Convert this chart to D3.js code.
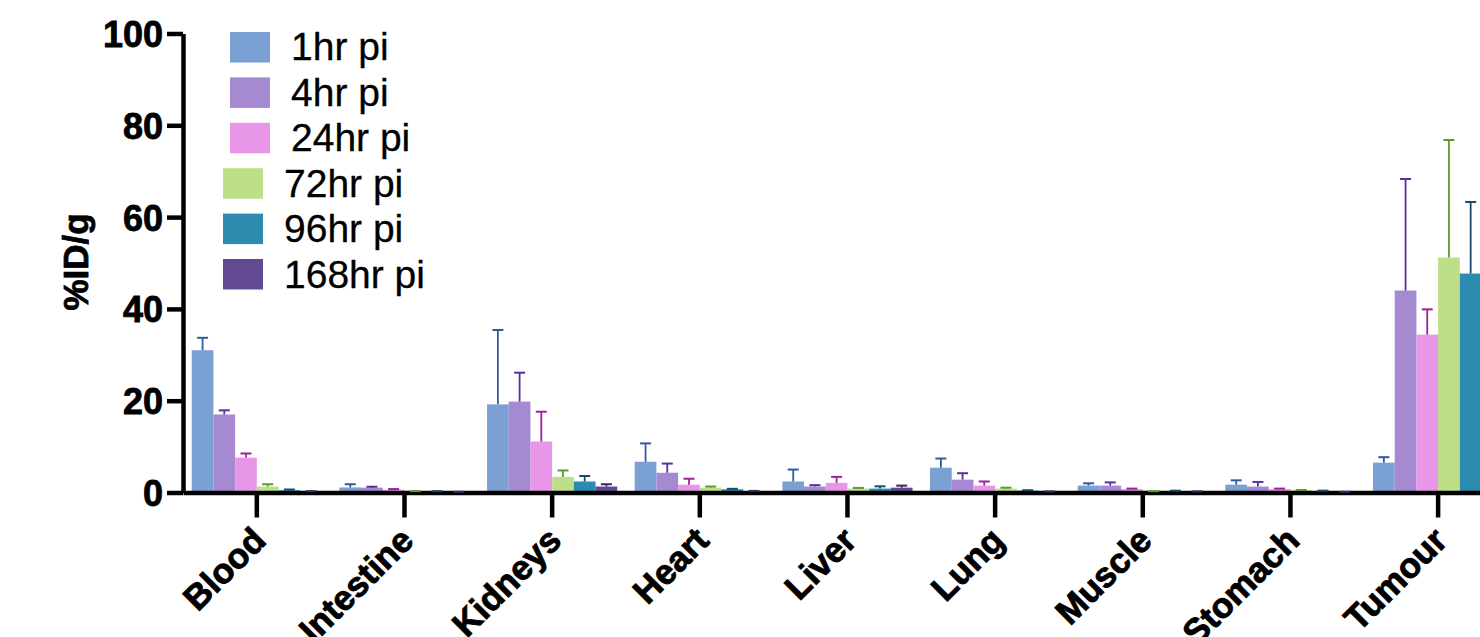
<!DOCTYPE html>
<html>
<head>
<meta charset="utf-8">
<script src="https://cdn.jsdelivr.net/npm/d3@7"></script>
<style>
  html, body { margin: 0; padding: 0; background: #fff; }
  svg { display: block; }
  text { font-family: "Liberation Sans", Arial, sans-serif; }
</style>
</head>
<body>
<svg id="chart" width="1480" height="637"></svg>
<script>
const categories = ["Blood","Intestine","Kidneys","Heart","Liver","Lung","Muscle","Stomach","Tumour"];
const seriesNames = ["1hr pi","4hr pi","24hr pi","72hr pi","96hr pi","168hr pi"];

const mean1hr   = [31.0, 1.1, 19.2, 6.7, 2.4, 5.4, 1.5, 1.7, 6.5];
const mean4hr   = [17.0, 1.05, 19.8, 4.3, 1.3, 2.8, 1.5, 1.3, 44.0];
const mean24hr  = [7.6, 0.6, 11.1, 1.7, 2.1, 1.5, 0.75, 0.75, 34.4];
const mean72hr  = [1.3, 0.2, 3.4, 1.05, 0.85, 0.85, 0.2, 0.5, 51.2];
const mean96hr  = [0.5, 0.2, 2.4, 0.7, 0.85, 0.4, 0.3, 0.3, 47.7];
const mean168hr = [0.2, 0.1, 1.3, 0.3, 1.05, 0.2, 0.2, 0.1, 35.0];

const sd1hr   = [2.7, 0.7, 16.2, 4.0, 2.6, 2.0, 0.5, 0.95, 1.2];
const sd4hr   = [0.9, 0.2, 6.3, 2.0, 0.3, 1.4, 0.7, 1.0, 24.3];
const sd24hr  = [0.9, 0.15, 6.5, 1.3, 1.3, 0.9, 0.1, 0.1, 5.5];
const sd72hr  = [0.5, 0.1, 1.4, 0.25, 0.15, 0.2, 0.1, 0.05, 25.6];
const sd96hr  = [0.15, 0.1, 1.2, 0.1, 0.5, 0.1, 0.1, 0.1, 15.6];
const sd168hr = [0.1, 0.05, 0.5, 0.05, 0.45, 0.05, 0.05, 0.05, 8.0];

const yTicks = [0, 20, 40, 60, 80, 100];
const yLabel = "%ID/g";

const barColors = ["#7ba0d4", "#a58ad2", "#e897e8", "#bddf87", "#2e8bb0", "#634893"];
const errColors = ["#2f5b9e", "#5a2e9e", "#a0209a", "#5a9a30", "#1a4a6a", "#3a2860"];

const means = [mean1hr, mean4hr, mean24hr, mean72hr, mean96hr, mean168hr];
const sds = [sd1hr, sd4hr, sd24hr, sd72hr, sd96hr, sd168hr];

const data = [];
categories.forEach((c, ci) => {
  seriesNames.forEach((s, si) => {
    data.push({cat: c, ser: s, si, v: means[si][ci], e: sds[si][ci]});
  });
});

const svg = d3.select("#chart");

const x0 = d3.scaleBand().domain(categories).range([183, 183 + 9 * 147.66]).padding(0);
const step = x0.bandwidth();
const groupW = 130.2;
const x1 = d3.scaleBand().domain(seriesNames)
  .range([(step - groupW) / 2, (step + groupW) / 2]).padding(0);
const y = d3.scaleLinear().domain([0, 100]).range([492.5, 33.5]);
const color = d3.scaleOrdinal().domain(seriesNames).range(barColors);
const ecolor = d3.scaleOrdinal().domain(seriesNames).range(errColors);

// bars
svg.append("g").selectAll("rect").data(data).join("rect")
  .attr("x", d => x0(d.cat) + x1(d.ser))
  .attr("width", x1.bandwidth())
  .attr("y", d => y(d.v))
  .attr("height", d => y(0) - y(d.v))
  .attr("fill", d => color(d.ser));

// axes
const yAxis = svg.append("g").attr("transform", "translate(183,0)")
  .call(d3.axisLeft(y).tickValues(yTicks).tickSize(16).tickSizeOuter(0).tickPadding(4));
yAxis.select(".domain").attr("stroke", "#000").attr("stroke-width", 4.5);
yAxis.selectAll(".tick line").attr("stroke", "#000").attr("stroke-width", 4.5);
yAxis.selectAll(".tick text")
  .attr("font-size", 36).attr("font-weight", "bold").attr("fill", "#000")
  .attr("stroke", "#000").attr("stroke-width", 0.8)
  .attr("dy", "0.36em");

const xAxis = svg.append("g").attr("transform", "translate(0," + y(0) + ")")
  .call(d3.axisBottom(x0).tickSize(25).tickSizeOuter(0));
xAxis.select(".domain").attr("stroke", "#000").attr("stroke-width", 4.5);
xAxis.selectAll(".tick line").attr("stroke", "#000").attr("stroke-width", 4.5);
xAxis.selectAll(".tick text")
  .attr("x", 0).attr("y", 0).attr("dy", 0)
  .attr("transform", "translate(11,50) rotate(-45)")
  .attr("text-anchor", "end")
  .attr("font-size", 35).attr("font-weight", "bold").attr("fill", "#000")
  .attr("stroke", "#000").attr("stroke-width", 0.9);

// error bars
const eg = svg.append("g").selectAll("g").data(data).join("g");
eg.append("line")
  .attr("x1", d => x0(d.cat) + x1(d.ser) + x1.bandwidth() / 2)
  .attr("x2", d => x0(d.cat) + x1(d.ser) + x1.bandwidth() / 2)
  .attr("y1", d => y(d.v))
  .attr("y2", d => y(d.v + d.e))
  .attr("stroke", d => ecolor(d.ser)).attr("stroke-width", 1.8);
eg.append("line")
  .attr("x1", d => x0(d.cat) + x1(d.ser) + x1.bandwidth() / 2 - 5.5)
  .attr("x2", d => x0(d.cat) + x1(d.ser) + x1.bandwidth() / 2 + 5.5)
  .attr("y1", d => y(d.v + d.e))
  .attr("y2", d => y(d.v + d.e))
  .attr("stroke", d => ecolor(d.ser)).attr("stroke-width", 2);

// y label
svg.append("text")
  .attr("transform", "translate(88,262) rotate(-90)")
  .attr("text-anchor", "middle")
  .attr("font-size", 35).attr("font-weight", "bold").attr("fill", "#000")
  .attr("stroke", "#000").attr("stroke-width", 0.8)
  .text(yLabel);

// legend
const legendX = [230, 230, 230, 223, 223, 223];
const textX = [291, 291, 291, 284, 284, 284];
const leg = svg.append("g").selectAll("g").data(seriesNames).join("g");
leg.append("rect")
  .attr("x", (d, i) => legendX[i])
  .attr("y", (d, i) => 32 + i * 45.4)
  .attr("width", 40).attr("height", 30.5)
  .attr("fill", d => color(d));
leg.append("text")
  .attr("x", (d, i) => textX[i])
  .attr("y", (d, i) => 60 + i * 45.6)
  .attr("font-size", 39).attr("fill", "#000")
  .attr("stroke", "#000").attr("stroke-width", 0.3)
  .text(d => d);
</script>
</body>
</html>
